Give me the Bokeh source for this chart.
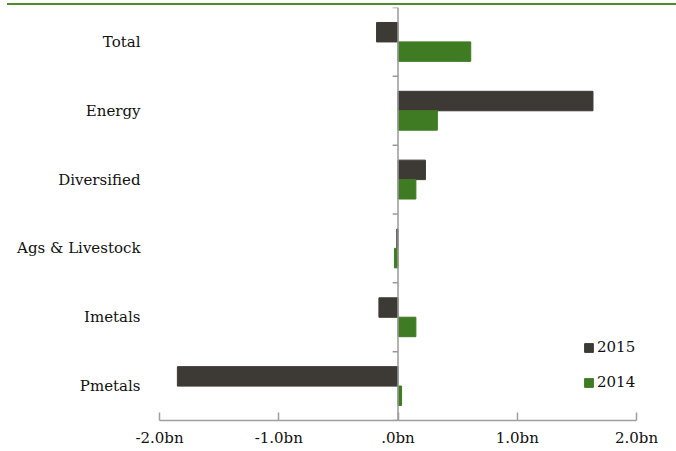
from bokeh.plotting import figure
from bokeh.models import (ColumnDataSource, Range1d, FactorRange, Span, Legend, LegendItem,
                          FixedTicker, Div)
from bokeh.transform import dodge
from bokeh.layouts import column
from bokeh.embed import file_html
from bokeh.resources import INLINE

categories = ["Total", "Energy", "Diversified", "Ags & Livestock", "Imetals", "Pmetals"]
values_2015 = [-0.18, 1.635, 0.23, -0.01, -0.16, -1.85]
values_2014 = [0.61, 0.33, 0.15, -0.03, 0.15, 0.03]
tick_values = [-2, -1, 0, 1, 2]
tick_labels = ["-2.0bn", "-1.0bn", ".0bn", "1.0bn", "2.0bn"]

FONT = "DejaVu Serif"
DARK = "#3d3935"
GREEN = "#3f7b22"

src = ColumnDataSource(dict(cat=categories, v2015=values_2015, v2014=values_2014))

p = figure(width=676, height=445, output_backend="svg", toolbar_location=None,
           y_range=FactorRange(factors=list(reversed(categories))),
           x_range=Range1d(-2, 2),
           min_border_left=159, min_border_right=40, min_border_top=1, min_border_bottom=31)
p.outline_line_color = None
p.xgrid.visible = False
p.ygrid.visible = False

r15 = p.hbar(y=dodge("cat", 0.141, range=p.y_range), right="v2015", left=0, height=0.283,
             source=src, fill_color=DARK, line_color=DARK)
r14 = p.hbar(y=dodge("cat", -0.141, range=p.y_range), right="v2014", left=0, height=0.283,
             source=src, fill_color=GREEN, line_color=GREEN)

# vertical axis at zero with category boundary ticks
p.add_layout(Span(location=0, dimension="height", line_color="#9a9a9a", line_width=1.5))
bounds = list(range(len(categories) + 1))
p.segment(x0=[0] * len(bounds), x1=[-0.045] * len(bounds), y0=bounds, y1=bounds,
          line_color="#9a9a9a", line_width=1.5)

xa = p.xaxis[0]
xa.ticker = FixedTicker(ticks=tick_values)
xa.major_label_overrides = {v: l for v, l in zip(tick_values, tick_labels)}
xa.axis_line_color = "#a0a0a0"
xa.axis_line_width = 1.5
xa.major_tick_line_color = "#a0a0a0"
xa.major_tick_line_width = 1.5
xa.major_tick_in = 8
xa.major_tick_out = 0
xa.minor_tick_line_color = None
xa.major_label_standoff = 8
xa.major_label_text_font = FONT
xa.major_label_text_font_size = "15px"
xa.major_label_text_color = "#111111"

ya = p.yaxis[0]
ya.axis_line_color = None
ya.major_tick_line_color = None
ya.minor_tick_line_color = None
ya.major_tick_out = 0
ya.major_tick_in = 0
ya.major_label_standoff = 19
ya.major_label_text_font = FONT
ya.major_label_text_font_size = "15px"
ya.major_label_text_color = "#111111"

legend = Legend(items=[LegendItem(label="2015", renderers=[r15]),
                       LegendItem(label="2014", renderers=[r14])],
                location=(424, 28), orientation="vertical",
                glyph_width=11, glyph_height=11, label_height=20, spacing=15,
                label_standoff=3, padding=0, margin=0,
                border_line_color=None, background_fill_alpha=0,
                label_text_font=FONT, label_text_font_size="15px", label_text_color="#111111")
p.add_layout(legend)

top = Div(text="", width=669, height=2, margin=(3, 0, 1, 7),
          styles={"background-color": "#4f8a2b"})

layout = column(top, p, spacing=0, margin=0)
open("out.html", "w").write(file_html(layout, INLINE))
